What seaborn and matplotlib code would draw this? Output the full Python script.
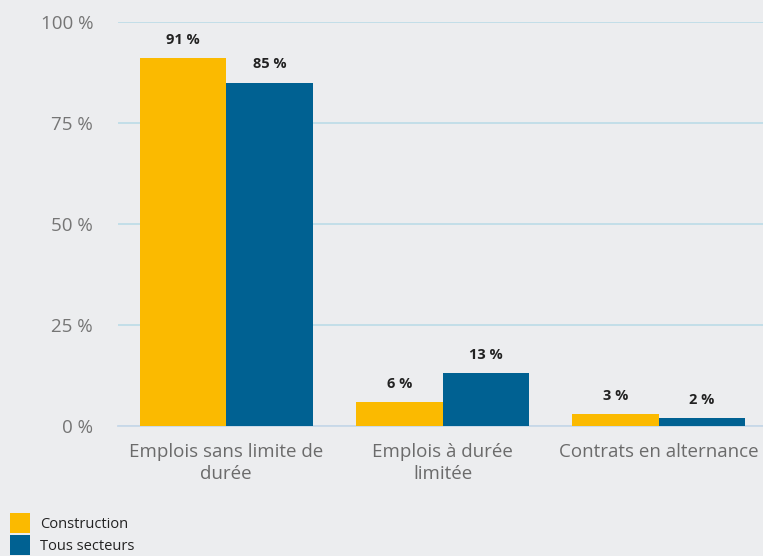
import matplotlib
matplotlib.use("Agg")
import matplotlib.pyplot as plt
from matplotlib.patches import Patch
import seaborn as sns
import pandas as pd

categories = ["Emplois sans limite de\ndurée", "Emplois à durée\nlimitée", "Contrats en alternance"]
series = ["Construction", "Tous secteurs"]
construction = [91, 6, 3]
tous_secteurs = [85, 13, 2]
yticks = [0, 25, 50, 75, 100]
ytick_labels = ["0 %", "25 %", "50 %", "75 %", "100 %"]
colors = ["#FBBA00", "#006192"]

df = pd.DataFrame({
    "cat": categories * 2,
    "serie": [series[0]] * 3 + [series[1]] * 3,
    "val": construction + tous_secteurs,
})

sns.set_theme(style="white")
plt.rcParams["font.family"] = ["Open Sans", "DejaVu Sans"]
bg = "#ECEDEF"

fig = plt.figure(figsize=(7.63, 5.56), dpi=100, facecolor=bg)
ax = fig.add_axes([118 / 763, 1 - 426 / 556, 649 / 763, 404 / 556])
ax.set_facecolor(bg)

sns.barplot(data=df, x="cat", y="val", hue="serie", palette=colors,
            order=categories, hue_order=series, width=0.8, saturation=1,
            ax=ax, legend=False, zorder=3, linewidth=0, edgecolor="none")

for cont in ax.containers:
    ax.bar_label(cont, labels=[f"{v:.0f} %" for v in cont.datavalues],
                 padding=8, fontsize=10.5, fontweight="bold", color="#222222")

ax.set_ylim(0, 100)
ax.set_xlim(-0.5, 2.5)
ax.set_yticks(yticks)
ax.set_yticklabels(ytick_labels)
ax.yaxis.grid(True, color="#BFDDE8", linewidth=1.3, zorder=0)
ax.set_axisbelow(True)
for s in ["top", "right", "left"]:
    ax.spines[s].set_visible(False)
ax.spines["bottom"].set_color("#C8D8E8")
ax.spines["bottom"].set_linewidth(1.3)
ax.tick_params(axis="y", length=0, pad=18, labelsize=13.5, labelcolor="#757575")
ax.tick_params(axis="x", length=0, pad=12, labelsize=13.5, labelcolor="#6B6B6B")
for lbl in ax.get_xticklabels():
    lbl.set_linespacing(1.3)
ax.set_xlabel("")
ax.set_ylabel("")

handles = [Patch(facecolor=c, edgecolor="none") for c in colors]
fig.legend(handles, series, loc="upper left",
           bbox_to_anchor=(10 / 763, 1 - 513 / 556), frameon=False,
           fontsize=10.5, handlelength=1.4, handleheight=1.73,
           handletextpad=0.65, labelspacing=0.15, borderaxespad=0,
           borderpad=0, labelcolor="#222222")

fig.savefig("out.png", dpi=100, facecolor=bg)
